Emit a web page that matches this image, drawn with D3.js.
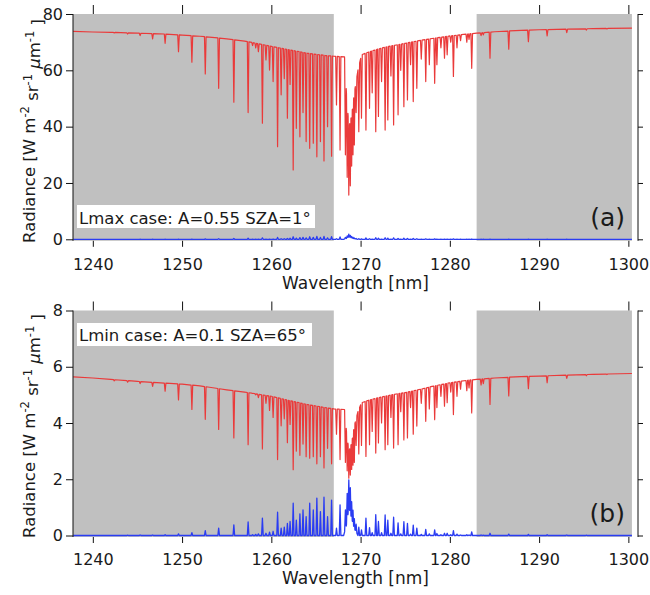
<!DOCTYPE html>
<html><head><meta charset="utf-8">
<script src="https://cdn.jsdelivr.net/npm/d3@7"></script>
<style>
body{margin:0;background:#fff}
text{font-family:"DejaVu Sans",Verdana,sans-serif;fill:#1a1a1a}
</style>
</head><body>
<svg id="c" width="650" height="595"></svg>
<script>
// ---------------- DATA ----------------
// continuum / upper envelope of the red radiance spectra
const contWl = [1237.8,1240,1242,1245,1248,1250,1252,1255,1257,1258,1260,1262,1264,1266,1267,1268.2,1268.45,1268.7,1269.0,1269.3,1269.7,1270.1,1271,1272,1273,1274,1275,1276,1277,1278,1280,1282,1283,1285,1288,1290,1293,1296,1300.4];
const contA  = [73.8,73.6,73.5,73.2,72.9,72.5,72.1,71.2,70.4,69.8,68.5,67.3,66.1,65.3,65.0,64.8,50,40,44,52,60,65.5,66.6,67.6,68.4,69.0,69.6,70.2,70.8,71.3,72.2,72.9,73.2,73.7,74.2,74.4,74.6,74.8,75.0];
const contB  = [5.64,5.60,5.55,5.48,5.42,5.38,5.32,5.18,5.10,5.05,4.95,4.80,4.66,4.55,4.50,4.48,3.6,3.0,3.3,3.9,4.4,4.72,4.82,4.90,4.97,5.03,5.08,5.15,5.22,5.30,5.43,5.52,5.55,5.60,5.65,5.67,5.70,5.73,5.76];

// absorption line centres [nm]
const lineWl = [1242.4,1243.9,1245.3,1246.7,1248.1,1249.6,1251.1,1252.6,1254.1,1255.8,1257.4,1257.9,1258.25,1258.55,1259.0,1259.4,1259.8,1260.2,1260.7,1261.1,1261.45,1261.8,1262.1,1262.45,1262.8,1263.2,1263.55,1263.9,1264.3,1264.7,1265.1,1265.5,1265.9,1266.3,1266.75,1267.3,1267.7,
  1268.3,1268.5,1268.68,1268.85,1269.0,1269.15,1269.3,1269.5,1269.8,1270.1,
  1270.6,1271.0,1271.3,1271.7,1272.0,1272.35,1272.75,1273.05,1273.4,1273.7,1274.2,1274.5,1274.85,1275.25,1275.6,1275.9,1276.3,1276.8,1277.3,1277.7,1278.3,1278.55,1279.0,1279.4,1279.7,1280.1,1280.4,1280.8,1281.2,1281.9,1282.15,1282.45,1283.5,1283.75,1284.5,1286.6,1288.8,1290.9,1293.1,1295.3,1297.6];
// red line minima, panel (a)
const lineMinA = [73.3,72.9,72.3,71.2,69.6,66.6,62.9,58.7,53.6,48.7,45.0,68.8,68.0,66.6,41.2,63.7,60.1,56,32.9,51.3,57,43.0,55,24.6,39.4,36.4,45,34.7,32.3,34.1,29.3,34.7,27.8,40,29.5,47.7,31.7,
  30,22,15.7,19,26,30,33.5,45,38.2,43,
  38.8,46.5,52,38.2,43.6,56,38.8,42.4,58,40.6,44.2,60,47.1,49.5,62,48.9,53.6,64,56,62,55.4,62,68,64.3,65.5,70,57.8,68,70.5,70,71,60.7,72.3,72.6,64.3,67.5,70.2,72.2,73.4,74.3,74.7];
// red line minima, panel (b)
const lineMinB = [5.50,5.45,5.40,5.30,5.13,4.82,4.48,4.13,3.77,3.47,3.23,5.05,5.0,4.9,3.08,4.7,4.45,4.2,2.7,3.9,4.15,3.3,3.95,2.34,3.0,2.85,3.25,2.8,2.75,2.8,2.55,2.8,2.4,3.1,2.55,3.6,2.7,
  2.6,2.3,2.04,2.15,2.35,2.5,2.6,3.2,2.9,3.2,
  2.81,3.23,3.7,2.93,3.29,4.0,3.05,3.23,4.2,3.11,3.23,4.4,3.4,3.47,4.55,3.6,3.89,4.7,4.06,4.5,4.12,4.55,4.95,4.6,4.72,5.1,4.3,4.95,5.2,5.15,5.25,4.36,5.35,5.4,4.66,4.96,5.22,5.43,5.59,5.68,5.72];
// blue peak values, panel (a)
const lineBlueA = [0,0,0.01,0.01,0.02,0.04,0.07,0.12,0.2,0.3,0.4,0.02,0.03,0.04,0.5,0.05,0.07,0.1,0.65,0.2,0.22,0.33,0.38,0.9,0.42,0.6,0.7,0.52,0.9,0.7,1.0,0.65,1.05,0.5,0.95,0.2,0.85,
  0.7,1.2,1.8,1.4,1.0,0.7,0.45,0.3,0.22,0.15,
  0.48,0.2,0.08,0.57,0.38,0.07,0.55,0.42,0.06,0.5,0.33,0.05,0.38,0.33,0.04,0.28,0.2,0.03,0.17,0.05,0.15,0.05,0.02,0.06,0.06,0.02,0.13,0.04,0.02,0.02,0.02,0.1,0.01,0.01,0.06,0.04,0.03,0.02,0.01,0,0];
// blue peak values, panel (b)
const lineBlueB = [0,0.01,0.02,0.02,0.03,0.06,0.10,0.17,0.26,0.38,0.48,0.03,0.04,0.06,0.62,0.08,0.12,0.15,0.83,0.26,0.3,0.43,0.5,1.15,0.55,0.77,0.91,0.67,1.15,0.91,1.33,0.85,1.36,0.67,1.26,0.26,1.09,
  0.91,1.5,1.98,1.7,1.2,0.9,0.6,0.4,0.3,0.2,
  0.62,0.28,0.1,0.74,0.5,0.1,0.73,0.55,0.08,0.65,0.45,0.06,0.49,0.43,0.05,0.37,0.26,0.04,0.22,0.06,0.2,0.07,0.03,0.08,0.08,0.03,0.17,0.05,0.02,0.03,0.02,0.13,0.02,0.01,0.08,0.05,0.04,0.03,0.02,0.01,0];
// broad base of the blue curve (band centre)
const blueBaseWl = [1237.8,1268.1,1268.4,1268.7,1269.0,1269.3,1269.7,1300.4];
const blueBaseA  = [0,0,0.3,0.9,0.5,0.2,0,0];
const blueBaseB  = [0,0,0.35,1.0,0.6,0.25,0,0];

const grayBands = [[1237.78,1267.0],[1283.0,1300.4]];
const xTicks  = [1240,1250,1260,1270,1280,1290,1300];
const yTicksA = [0,20,40,60,80];
const yTicksB = [0,2,4,6,8];
const caseLabels  = ["Lmax case: A=0.55 SZA=1\u00B0","Lmin case: A=0.1 SZA=65\u00B0"];
const panelLabels = ["(a)","(b)"];

// ---------------- DRAWING ----------------
const svg = d3.select('#c');
const X0 = 73, X1 = 638;
const x = d3.scaleLinear().domain([1237.78, 1301.08]).range([X0, X1]);

const panels = [
  {top:14, zero:239.3, bottom:240.8, dom:[0,80], ticks:yTicksA, cont:contA, mins:lineMinA, blue:lineBlueA, bbase:blueBaseA,
   tickBase:270, titleBase:289, yTitleC:131, box:{x:77,y:205,w:238,h:23,tb:223.5}, lab:{y:226}, caseText:caseLabels[0], panelText:panelLabels[0]},
  {top:310.5, zero:535.5, bottom:537, dom:[0,8], ticks:yTicksB, cont:contB, mins:lineMinB, blue:lineBlueB, bbase:blueBaseB,
   tickBase:565, titleBase:584, yTitleC:426, box:{x:77,y:323,w:235,h:23,tb:341}, lab:{y:522}, caseText:caseLabels[1], panelText:panelLabels[1]}
];

const hw = lineWl.map((c,i)=>{
  const prev = i>0 ? c-lineWl[i-1] : 1;
  const next = i<lineWl.length-1 ? lineWl[i+1]-c : 1;
  return Math.min(0.09, 0.45*Math.min(prev,next));
});

function buildSeries(baseWl, baseVals, peaks){
  const base = d3.scaleLinear().domain(baseWl).range(baseVals).clamp(true);
  const pts = [];
  baseWl.forEach((w,i)=>{
    if(!lineWl.some((c,j)=>Math.abs(w-c) <= hw[j]+0.005)) pts.push([w, baseVals[i]]);
  });
  lineWl.forEach((c,j)=>{
    pts.push([c-hw[j], base(c-hw[j])]);
    pts.push([c, peaks[j]]);
    pts.push([c+hw[j], base(c+hw[j])]);
  });
  pts.sort((a,b)=>a[0]-b[0]);
  return pts;
}

panels.forEach(p=>{
  const y = d3.scaleLinear().domain(p.dom).range([p.zero, p.top]);
  const g = svg.append('g');

  // gray shaded bands
  g.selectAll('rect.band').data(grayBands).join('rect')
    .attr('x', d=>x(d[0])).attr('width', d=>x(d[1])-x(d[0]))
    .attr('y', p.top).attr('height', p.bottom-p.top)
    .attr('fill', '#c0c0c0');

  const line = d3.line().x(d=>x(d[0])).y(d=>y(d[1]));

  g.append('path').datum(buildSeries(contWl, p.cont, p.mins))
    .attr('d', line).attr('fill','none').attr('stroke','#ea3a3a')
    .attr('stroke-width',1.2).attr('stroke-linejoin','round');

  g.append('path').datum(buildSeries(blueBaseWl, p.bbase, p.blue))
    .attr('d', line).attr('fill','none').attr('stroke','#2a3cf2')
    .attr('stroke-width',1.3).attr('stroke-linejoin','round');

  // left & right axis lines
  [X0, X1].forEach(xx=>g.append('line').attr('x1',xx).attr('x2',xx)
    .attr('y1',p.top).attr('y2',p.bottom).attr('stroke','#111').attr('stroke-width',1));

  // left axis
  const ax = g.append('g').attr('transform',`translate(${X0},0)`)
    .call(d3.axisLeft(y).tickValues(p.ticks).tickSize(7).tickPadding(3).tickSizeOuter(0));
  ax.select('.domain').remove();
  ax.selectAll('text').style('font-size','16px').attr('fill','#1a1a1a');
  ax.selectAll('line').attr('stroke','#111');

  // right axis (ticks only)
  const ar = g.append('g').attr('transform',`translate(${X1},0)`)
    .call(d3.axisRight(y).tickValues(p.ticks).tickSize(5).tickFormat('').tickSizeOuter(0));
  ar.select('.domain').remove();
  ar.selectAll('line').attr('stroke','#111');

  // top ticks
  const at = g.append('g').attr('transform',`translate(0,${p.top})`)
    .call(d3.axisTop(x).tickValues(xTicks).tickSize(9).tickFormat('').tickSizeOuter(0));
  at.select('.domain').remove();
  at.selectAll('line').attr('stroke','#111');

  // bottom axis
  const ab = g.append('g').attr('transform',`translate(0,${p.bottom})`)
    .call(d3.axisBottom(x).tickValues(xTicks).tickSize(6).tickSizeOuter(0).tickFormat(d3.format('d')));
  ab.select('.domain').remove();
  ab.selectAll('line').attr('stroke','#111');
  ab.selectAll('text').attr('y', p.tickBase - p.bottom).attr('dy', null)
    .style('font-size','16px').attr('fill','#1a1a1a');

  // x title
  g.append('text').attr('x',(X0+X1)/2).attr('y',p.titleBase).attr('text-anchor','middle')
    .style('font-size','17px').text('Wavelength [nm]');

  // y title
  const yt = g.append('text').attr('transform',`translate(35,${p.yTitleC}) rotate(-90)`)
    .attr('text-anchor','middle').style('font-size','16.5px');
  const sup = (t)=>yt.append('tspan').attr('dy','-0.5em').style('font-size','11.5px').text(t);
  const nor = (t)=>yt.append('tspan').attr('dy','0.5em').text(t);
  yt.append('tspan').text('Radiance [W m');
  sup('-2'); nor(' sr'); sup('-1'); nor(' ');
  yt.append('tspan').style('font-style','italic').text('\u03BC');
  yt.append('tspan').text('m');
  sup('-1'); nor(' ]');

  // case label box
  g.append('rect').attr('x',p.box.x).attr('y',p.box.y).attr('width',p.box.w).attr('height',p.box.h).attr('fill','#fff');
  g.append('text').attr('x',p.box.x+2).attr('y',p.box.tb).style('font-size','16.5px').text(p.caseText);

  // panel label
  g.append('text').attr('x',625).attr('y',p.lab.y).attr('text-anchor','end')
    .style('font-size','25px').text(p.panelText);
});
</script>
</body></html>
